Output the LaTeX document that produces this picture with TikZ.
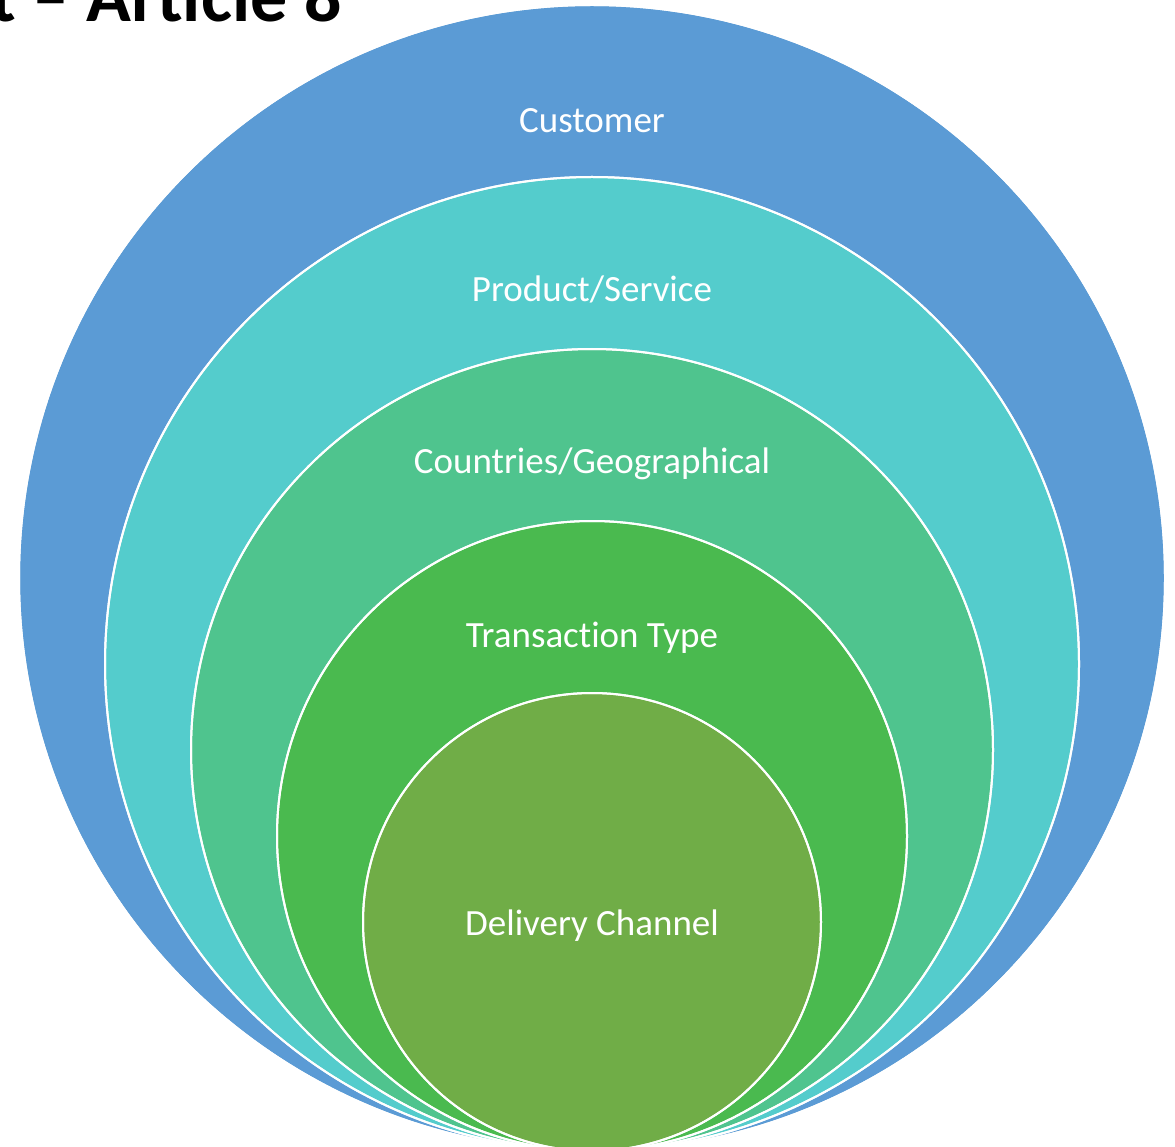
\documentclass[tikz,border=0pt]{standalone}
\usepackage{fontspec}
\setmainfont{Carlito}[Ligatures=NoCommon]
\definecolor{cBlue}{RGB}{91,155,213}
\definecolor{cTeal}{RGB}{84,204,204}
\definecolor{cSea}{RGB}{79,196,142}
\definecolor{cGreen}{RGB}{74,186,79}
\definecolor{cOlive}{RGB}{112,173,71}
\begin{document}
\begin{tikzpicture}[x=1pt,y=-1pt,
  ring/.style={draw=white,line width=2pt},
  lbl/.style={text=white,font=\fontsize{37}{40}\selectfont,anchor=base,inner sep=0pt},
  ttl/.style={text=black,font=\fontsize{74}{80}\selectfont\bfseries,anchor=base east,inner sep=0pt}]
\useasboundingbox (0,0) rectangle (1175,1147);
\fill[ring,fill=cBlue] (592,578) circle[radius=573];
\fill[ring,fill=cTeal] (592,664) circle[radius=487];
\fill[ring,fill=cSea] (592,750) circle[radius=401];
\fill[ring,fill=cGreen] (592,836) circle[radius=315];
\fill[ring,fill=cOlive] (592,922) circle[radius=229];
\draw[ring] (592,578) circle[radius=573];
\draw[ring] (592,664) circle[radius=487];
\draw[ring] (592,750) circle[radius=401];
\draw[ring] (592,836) circle[radius=315];
\draw[ring] (592,922) circle[radius=229];
\node[ttl] (title) at (342,22) {t – Article 8};
\node[lbl] (customer) at (592,133) {Customer};
\node[lbl] (product) at (592,302) {Product/Service};
\node[lbl] (countries) at (592,473) {Countries/Geographical};
\node[lbl] (transaction) at (592,647) {Transaction Type};
\node[lbl] (delivery) at (592,935) {Delivery Channel};
\end{tikzpicture}
\end{document}
